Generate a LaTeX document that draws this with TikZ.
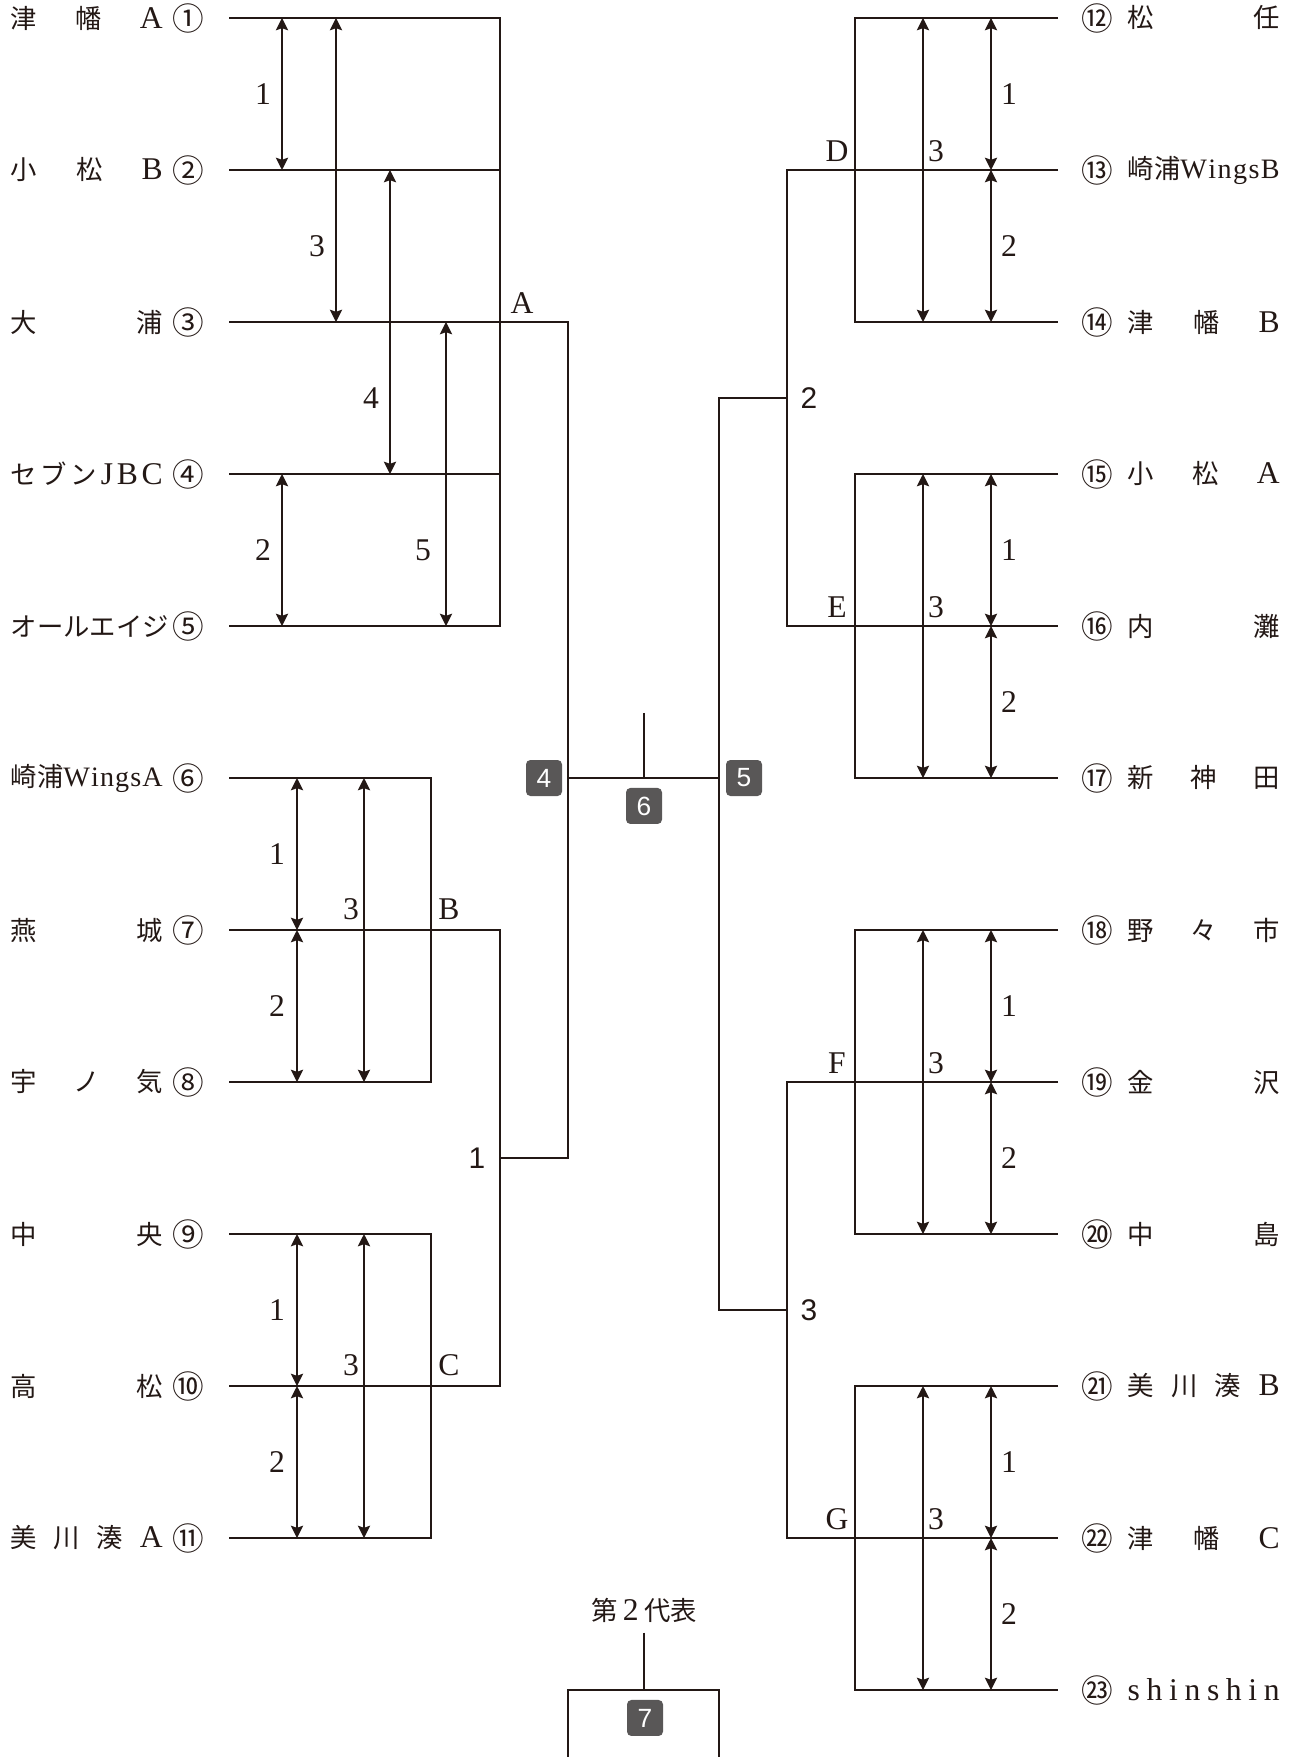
\documentclass[tikz,border=0pt]{standalone}
\usepackage{fontspec}
\setmainfont{Liberation Serif}
\newfontfamily\jp{Noto Sans CJK JP}
\newfontfamily\hel{Liberation Sans}
\usetikzlibrary{arrows.meta}
\definecolor{ink}{RGB}{35,24,21}
\definecolor{boxgray}{RGB}{89,87,87}
\newcommand{\lat}[1]{{\rmfamily\fontsize{18}{19}\selectfont #1}}
\newcommand{\wings}[1]{{\rmfamily\fontsize{16}{17}\selectfont W\hfil i\hfil n\hfil g\hfil s\hfil #1}}
\newcommand{\tname}[1]{\makebox[3.04cm][s]{#1}}

\begin{document}
\begin{tikzpicture}[x=.2mm,y=-30.4mm,line width=.85pt,color=ink,
  >={Stealth[length=7pt,width=7pt,inset=1.2pt]},
  team/.style={anchor=west,inner sep=0pt,font=\jp\fontsize{15}{16}\selectfont},
  seed/.style={inner sep=0pt,font=\jp\fontsize{18}{19}\selectfont},
  ord/.style={inner sep=0pt,font=\fontsize{18}{19}\selectfont},
  blk/.style={inner sep=0pt,font=\fontsize{18}{19}\selectfont},
  rnd/.style={inner sep=0pt,font=\hel\fontsize{17}{18}\selectfont},
  gbox/.style={fill=boxgray,rounded corners=2.5pt,minimum size=.72cm,inner sep=0pt,text=white,font=\hel\fontsize{15}{16}\selectfont}]
\useasboundingbox (0,.8816) rectangle (1296,12.4408);
% teams
\foreach \k/\t in {1/{津\hfill 幡\hfill\lat{A}},2/{小\hfill 松\hfill\lat{B}},3/{大\hfill 浦},
  4/{セ\hfill ブ\hfill ン\hfill\lat{J}\hfill\lat{B}\hfill\lat{C}},5/{オ\hfill ー\hfill ル\hfill エ\hfill イ\hfill ジ},
  6/{崎浦\wings{A}},7/{燕\hfill 城},8/{宇\hfill ノ\hfill 気},
  9/{中\hfill 央},10/{高\hfill 松},11/{美\hfill 川\hfill 湊\hfill\lat{A}}}
  \node[team] (n\k) at (10,\k) {\tname{\t}};
\foreach \k/\t in {12/{松\hfill 任},13/{崎浦\wings{B}},14/{津\hfill 幡\hfill\lat{B}},
  15/{小\hfill 松\hfill\lat{A}},16/{内\hfill 灘},17/{新\hfill 神\hfill 田},18/{野\hfill 々\hfill 市},
  19/{金\hfill 沢},20/{中\hfill 島},21/{美\hfill 川\hfill 湊\hfill\lat{B}},22/{津\hfill 幡\hfill\lat{C}},
  23/{\lat{s\hfill h\hfill i\hfill n\hfill s\hfill h\hfill i\hfill n}}}
  \node[team] (n\k) at (1127,{\k-11}) {\tname{\t}};
\foreach \k/\c in {1/①,2/②,3/③,4/④,5/⑤,6/⑥,7/⑦,8/⑧,9/⑨,10/⑩,11/⑪}
  \node[seed] (s\k) at (188,\k) {\c};
\foreach \k/\c in {12/⑫,13/⑬,14/⑭,15/⑮,16/⑯,17/⑰,18/⑱,19/⑲,20/⑳,21/㉑,22/㉒,23/㉓}
  \node[seed] (s\k) at (1097,{\k-11}) {\c};
% bracket lines
\foreach \k in {1,...,11} \coordinate (l\k) at (229,\k);
\foreach \k in {12,...,23} \coordinate (r\k) at (1058,{\k-11});
\draw (l1) -- ++(271,0) |- (l5) (l2) -- ++(271,0) (l4) -- ++(271,0);
\draw (l3) -- ++(339,0) |- (500,8.5);
\draw (l6) -- ++(202,0) |- (l8) (l9) -- ++(202,0) |- (l11);
\draw (l7) -- ++(271,0) |- (l10);
\draw (568,6) -- (719,6) (644,5.572) -- (644,6);
\draw (787,3.5) -| (719,9.5) -- ++(68,0);
\draw (r12) -- ++(-203,0) |- (r14) (r15) -- ++(-203,0) |- (r17) (r18) -- ++(-203,0) |- (r20) (r21) -- ++(-203,0) |- (r23);
\draw (r13) -- ++(-271,0) |- (r16) (r19) -- ++(-271,0) |- (r22);
\draw (568,12.5) |- (719,12) -- (719,12.5) (644,11.622) -- (644,12);
% match order
\foreach \x/\a/\b in {282/1/2,282/4/5,336/1/3,390/2/4,446/3/5,297/6/7,297/7/8,364/6/8,297/9/10,297/10/11,364/9/11}
  \draw[<->] (\x,\a) -- (\x,\b);
\foreach \a in {1,4,7,10}{
  \draw[<->] (991,\a) -- (991,{\a+1});
  \draw[<->] (991,{\a+1}) -- (991,{\a+2});
  \draw[<->] (923,\a) -- (923,{\a+2});}
\foreach \x/\y/\t [count=\i] in {263/1.5/1,317/2.5/3,371/3.5/4,263/4.5/2,423/4.5/5,277/6.5/1,277/7.5/2,351/6.86/3,277/9.5/1,277/10.5/2,351/9.86/3}
  \node[ord] (o\i) at (\x,\y) {\t};
\foreach \a [count=\i] in {1,4,7,10}{
  \node[ord] (ra\i) at (1009,{\a+.5}) {1};
  \node[ord] (rb\i) at (1009,{\a+1.5}) {2};
  \node[ord] (rc\i) at (936,{\a+.875}) {3};}
\foreach \x/\y/\t in {522/2.875/A,449/6.86/B,449/9.86/C,837/1.875/D,837/4.875/E,837/7.875/F,837/10.875/G}
  \node[blk] (g\t) at (\x,\y) {\t};
\node[rnd] (w1) at (477,8.5) {1};
\node[rnd] (w2) at (809,3.5) {2};
\node[rnd] (w3) at (809,9.5) {3};
\node[gbox] (b4) at (544,6) {4};
\node[gbox] (b5) at (744,6) {5};
\node[gbox] (b6) at (644,6.184) {6};
\node[gbox] (b7) at (645,12.184) {7};
\node[team,anchor=center] (rep) at (644,11.474) {第\hspace{3pt}\lat{2}\hspace{3pt}代表};
\end{tikzpicture}
\end{document}
